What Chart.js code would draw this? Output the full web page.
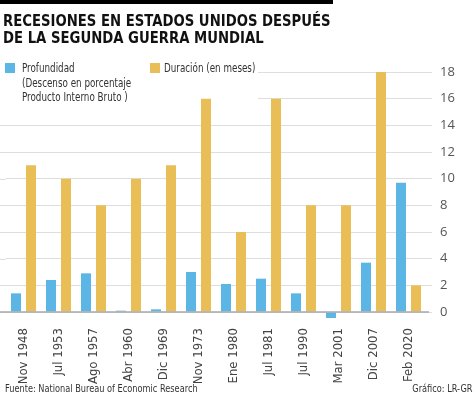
<!DOCTYPE html>
<html>
<head>
<meta charset="utf-8">
<script src="https://cdn.jsdelivr.net/npm/chart.js@4.4.0/dist/chart.umd.min.js"></script>
<style>
  html, body { margin: 0; padding: 0; background: #fff; }
  #wrap { position: relative; width: 474px; height: 395px; overflow: hidden;
          font-family: 'DejaVu Sans Condensed', sans-serif; }
  #topbar { position: absolute; left: 0; top: 0; width: 333px; height: 4px; background: #000; }
  #title { position: absolute; left: 3px; top: 12px; font-size: 16px; font-weight: bold;
           line-height: 17px; color: #111; white-space: nowrap;
           transform: scaleX(0.92); transform-origin: 0 0; }
  canvas { position: absolute; left: 0; top: 0; }
  .leg { position: absolute; top: 61px; font-size: 13px; line-height: 14.5px; color: #333;
         white-space: nowrap; transform: scaleX(0.75); transform-origin: 0 0; }
  .sw { position: absolute; top: 63px; width: 10px; height: 10px; }
  .foot { position: absolute; top: 382px; font-size: 11px; color: #333; white-space: nowrap;
          transform: scaleX(0.83); }
  #foot1 { left: 5px; transform-origin: 0 0; }
  #foot2 { right: 2px; transform-origin: 100% 0; }
</style>
</head>
<body>
<div id="wrap">
  <div id="topbar"></div>
  <canvas id="chart" width="474" height="395"></canvas>
  <div id="title">RECESIONES EN ESTADOS UNIDOS DESPUÉS<br>DE LA SEGUNDA GUERRA MUNDIAL</div>
  <div class="sw" style="left:5px;background:#5BB6E6"></div>
  <div class="leg" style="left:22px">Profundidad<br>(Descenso en porcentaje<br>Producto Interno Bruto )</div>
  <div class="sw" style="left:150px;background:#E9BE57"></div>
  <div class="leg" style="left:164px">Duración (en meses)</div>
  <div class="foot" id="foot1">Fuente: National Bureau of Economic Research</div>
  <div class="foot" id="foot2">Gráfico: LR-GR</div>
</div>
<script>
const categories = ["Nov 1948", "Jul 1953", "Ago 1957", "Abr 1960", "Dic 1969", "Nov 1973",
                    "Ene 1980", "Jul 1981", "Jul 1990", "Mar 2001", "Dic 2007", "Feb 2020"];
const profundidad = [1.4, 2.4, 2.9, 0.1, 0.2, 3.0, 2.1, 2.5, 1.4, -0.45, 3.7, 9.7];
const duracion = [11, 10, 8, 10, 11, 16, 6, 16, 8, 8, 18, 2];
const yTicks = [0, 2, 4, 6, 8, 10, 12, 14, 16, 18];

const blue = "#5BB6E6";
const yellow = "#E9BE57";
const gridColor = "#dedede";

// alarga la cuadrícula hacia la izquierda y tapa la zona de la leyenda
const extras = {
    id: "extras",
    beforeDatasetsDraw(chart) {
        const ctx = chart.ctx;
        const area = chart.chartArea;
        const y = chart.scales.y;
        ctx.save();
        ctx.strokeStyle = gridColor;
        ctx.lineWidth = 1;
        yTicks.forEach(function (v) {
            const py = Math.round(y.getPixelForValue(v)) + 0.5;
            ctx.beginPath();
            ctx.moveTo(0, py);
            ctx.lineTo(area.left, py);
            ctx.stroke();
        });
        // fondo blanco detrás de la leyenda
        ctx.fillStyle = "#fff";
        ctx.fillRect(0, 55, 258, y.getPixelForValue(15) - 55);
        ctx.restore();
    },
    afterDraw(chart) {
        const ctx = chart.ctx;
        const area = chart.chartArea;
        const py = chart.scales.y.getPixelForValue(0);
        ctx.save();
        ctx.strokeStyle = "#a9a9a9";
        ctx.lineWidth = 1.5;
        ctx.beginPath();
        ctx.moveTo(0, py);
        ctx.lineTo(area.right + 3, py);
        ctx.stroke();
        ctx.restore();
    }
};

new Chart(document.getElementById("chart"), {
    type: "bar",
    data: {
        labels: categories,
        datasets: [
            { label: "Profundidad", data: profundidad, backgroundColor: blue, clip: false },
            { label: "Duración (en meses)", data: duracion, backgroundColor: yellow, clip: false }
        ]
    },
    options: {
        responsive: false,
        animation: false,
        layout: { padding: { left: 6, right: 0, top: 72, bottom: 0 } },
        datasets: { bar: { categoryPercentage: 0.857, barPercentage: 0.667 } },
        plugins: { legend: { display: false }, tooltip: { enabled: false } },
        scales: {
            x: {
                grid: { display: false },
                border: { display: false },
                ticks: {
                    minRotation: 90, maxRotation: 90, padding: 8,
                    color: "#444",
                    font: { family: "'DejaVu Sans Condensed', sans-serif", size: 13 }
                },
                afterFit(scale) { scale.height = 83; }
            },
            y: {
                position: "right",
                min: 0, max: 18,
                grid: { color: gridColor, tickLength: 6, drawTicks: true },
                border: { display: false },
                afterBuildTicks(scale) { scale.ticks = yTicks.map(v => ({ value: v })); },
                ticks: {
                    padding: 8,
                    color: "#555",
                    font: { family: "'Open Sans', sans-serif", size: 13 }
                },
                afterFit(scale) { scale.width = 48; }
            }
        }
    },
    plugins: [extras]
});
</script>
</body>
</html>
